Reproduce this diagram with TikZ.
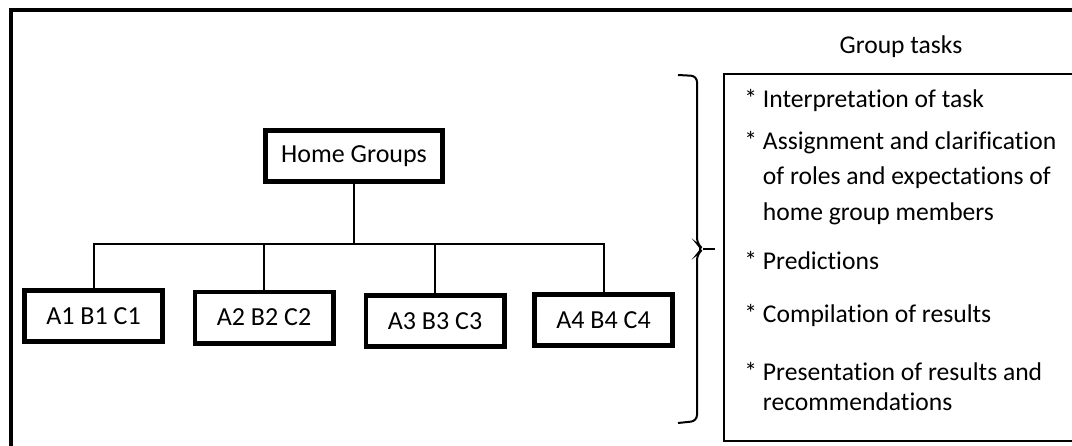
\documentclass[tikz,border=0pt]{standalone}
\usepackage{fontspec}
\setmainfont[Ligatures=CommonOff]{Carlito}
\usetikzlibrary{positioning, calc}

\begin{document}
\begin{tikzpicture}[x=0.5pt, y=-0.5pt,
    groupbox/.style={draw=black, line width=2.4pt, minimum width=69.1pt, minimum height=25.6pt, inner sep=0pt, font=\fontsize{13}{15}\selectfont},
    link/.style={draw=black, line width=1pt},
    item/.style={anchor=base west, align=left, inner sep=0pt, font=\fontsize{12.8}{15}\selectfont}]
        \useasboundingbox (0,0) rectangle (1072,445);

        % Outer frame (runs past the page at right and bottom)
        \draw[line width=1.6pt] (11,10) rectangle (1100,470);

        % Home node
        \node[groupbox, minimum width=88.6pt] (home) at (354,156) {Home Groups};

        % Member groups
        \node[groupbox] (g1) at (93.5,316) {A1 B1 C1};
        \node[groupbox] (g2) at (264,317.5) {A2 B2 C2};
        \node[groupbox] (g3) at (435,321) {A3 B3 C3};
        \node[groupbox] (g4) at (603.5,320) {A4 B4 C4};

        % Links
        \coordinate (bar) at (0,244);
        \foreach \g in {g1,g2,g3,g4}
            \draw[link] (home.south) -- (home.south |- bar) -| (\g.north);

        % Brace
        \coordinate (tip) at (715,249);
        \draw[line width=1pt, rounded corners=3pt] (678,75) -- (697,76) -- (697,244) -- (703,249) -- (697,254) -- (697,421) -- (678,423);
        \draw[line width=1pt] (703,249) -- (tip);

        % Group tasks
        \node[font=\fontsize{12.8}{15}\selectfont] (tasks) at (901,47) {Group tasks};
        \node[draw, line width=1pt, anchor=north west, minimum width=185pt, minimum height=183.5pt, inner sep=0pt] (taskbox) at (723,73) {};
        \node[item] (t1) at (744,107) {* Interpretation of task};
        \node[item, font=\fontsize{12.8}{17.75}\selectfont] (t2) at (744,220) {* Assignment and clarification\\\phantom{*} of roles and expectations of\\\phantom{*} home group members};
        \node[item] (t3) at (744,269) {* Predictions};
        \node[item] (t4) at (744,322) {* Compilation of results};
        \node[item] (t5) at (744,410) {* Presentation of results and\\\phantom{*} recommendations};
    \end{tikzpicture}
\end{document}
